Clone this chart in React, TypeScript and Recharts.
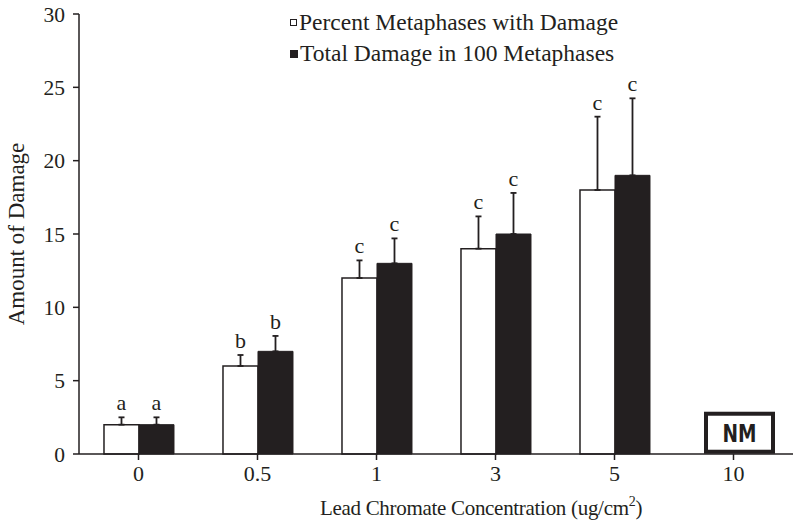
import React from 'react';
import {
  BarChart, Bar, XAxis, YAxis, ErrorBar, LabelList, Legend, ReferenceDot, Label,
} from 'recharts';

const categories = ['0', '0.5', '1', '3', '5', '10'];
const percentDamage = [2, 6, 12, 14, 18, null];
const totalDamage = [2, 7, 13, 15, 19, null];
const percentErr = [0.5, 0.75, 1.2, 2.2, 5, null];
const totalErr = [0.5, 1.05, 1.7, 2.8, 5.25, null];
const percentLetters = ['a', 'b', 'c', 'c', 'c', ''];
const totalLetters = ['a', 'b', 'c', 'c', 'c', ''];
const yTicks = [0, 5, 10, 15, 20, 25, 30];

const data = categories.map((c, i) => ({
  conc: c,
  percent: percentDamage[i],
  total: totalDamage[i],
  percentErr: percentErr[i] == null ? null : [0, percentErr[i]],
  totalErr: totalErr[i] == null ? null : [0, totalErr[i]],
}));

const FONT = '"Liberation Serif", "Times New Roman", serif';
const INK = '#231f20';

const letterLabel = (values: (number | null)[], errs: (number | null)[], letters: string[]) =>
  (props: any) => {
    const { x, y, width, height, index } = props;
    const v = values[index];
    const e = errs[index];
    if (v == null || e == null || !height) return null;
    const perUnit = height / v;
    const top = y - e * perUnit;
    return (
      <text x={x + width / 2} y={top - 7} textAnchor="middle" fontFamily={FONT} fontSize={22} fill={INK}>
        {letters[index]}
      </text>
    );
  };

const LegendBox = () => (
  <div style={{ fontFamily: FONT, fontSize: 23.5, color: INK, lineHeight: '31px', textAlign: 'left', whiteSpace: 'nowrap' }}>
    <div style={{ display: 'flex', alignItems: 'center' }}>
      <span style={{ display: 'inline-block', width: 5, height: 5, border: `1.5px solid ${INK}`, marginRight: 2 }} />
      Percent Metaphases with Damage
    </div>
    <div style={{ display: 'flex', alignItems: 'center' }}>
      <span style={{ display: 'inline-block', width: 8, height: 8, background: INK, marginRight: 2 }} />
      Total Damage in 100 Metaphases
    </div>
  </div>
);

const XTitle = (props: any) => {
  const { viewBox } = props;
  const cx = viewBox.x + viewBox.width / 2 + 45;
  return (
    <text x={cx} y={515} textAnchor="middle" fontFamily={FONT} fontSize={21} letterSpacing={-0.3} fill={INK}>
      Lead Chromate Concentration (ug/cm
      <tspan fontSize={14} dy={-9}>2</tspan>
      <tspan dy={9}>)</tspan>
    </text>
  );
};

const NMBox = (props: any) => {
  const { cx, cy } = props;
  const bx = cx + 6;
  return (
    <g>
      <rect x={bx - 33.5} y={cy - 19} width={67} height={38} fill="#fff" stroke={INK} strokeWidth={4} />
      <text
        x={bx}
        y={cy + 9}
        textAnchor="middle"
        fontFamily='"DejaVu Sans Condensed", "Liberation Sans Narrow", "DejaVu Sans", sans-serif'
        fontWeight="bold"
        fontSize={24}
        fill={INK}
        textLength={34}
        lengthAdjust="spacingAndGlyphs"
      >
        NM
      </text>
    </g>
  );
};

export default function App() {
  return (
    <div style={{ position: 'absolute', left: 0, top: 0, width: 800, height: 525, background: '#fff' }}>
      <BarChart
        width={800}
        height={525}
        data={data}
        margin={{ top: 14, right: 7, bottom: 11, left: 0 }}
        barCategoryGap="21%"
        barGap={0}
      >
        <XAxis
          dataKey="conc"
          height={60}
          stroke={INK}
          strokeWidth={1.5}
          tickSize={6}
          tick={{ fontFamily: FONT, fontSize: 22, fill: INK }}
          tickMargin={5}
          interval={0}
        >
          <Label content={<XTitle />} />
        </XAxis>
        <YAxis
          domain={[0, 30]}
          ticks={yTicks}
          width={79}
          stroke={INK}
          strokeWidth={1.5}
          tickSize={6}
          tickMargin={8}
          tick={{ fontFamily: FONT, fontSize: 21.5, fill: INK }}
        >
          <Label
            value="Amount of Damage"
            angle={-90}
            position="insideLeft"
            offset={16}
            style={{ fontFamily: FONT, fontSize: 23, fill: INK, textAnchor: 'middle' }}
          />
        </YAxis>
        <Legend
          verticalAlign="middle"
          align="center"
          layout="vertical"
          wrapperStyle={{ top: 7, left: 290, width: 380 }}
          content={<LegendBox />}
        />
        <Bar dataKey="percent" fill="#fff" stroke={INK} strokeWidth={1.5} isAnimationActive={false}>
          <ErrorBar dataKey="percentErr" width={3} stroke={INK} strokeWidth={1.8} direction="y" />
          <LabelList dataKey="percent" content={letterLabel(percentDamage, percentErr, percentLetters)} />
        </Bar>
        <Bar dataKey="total" fill={INK} stroke={INK} strokeWidth={1} isAnimationActive={false}>
          <ErrorBar dataKey="totalErr" width={3} stroke={INK} strokeWidth={1.8} direction="y" />
          <LabelList dataKey="total" content={letterLabel(totalDamage, totalErr, totalLetters)} />
        </Bar>
        <ReferenceDot x="10" y={1.45} r={0} shape={<NMBox />} ifOverflow="visible" />
      </BarChart>
    </div>
  );
}
